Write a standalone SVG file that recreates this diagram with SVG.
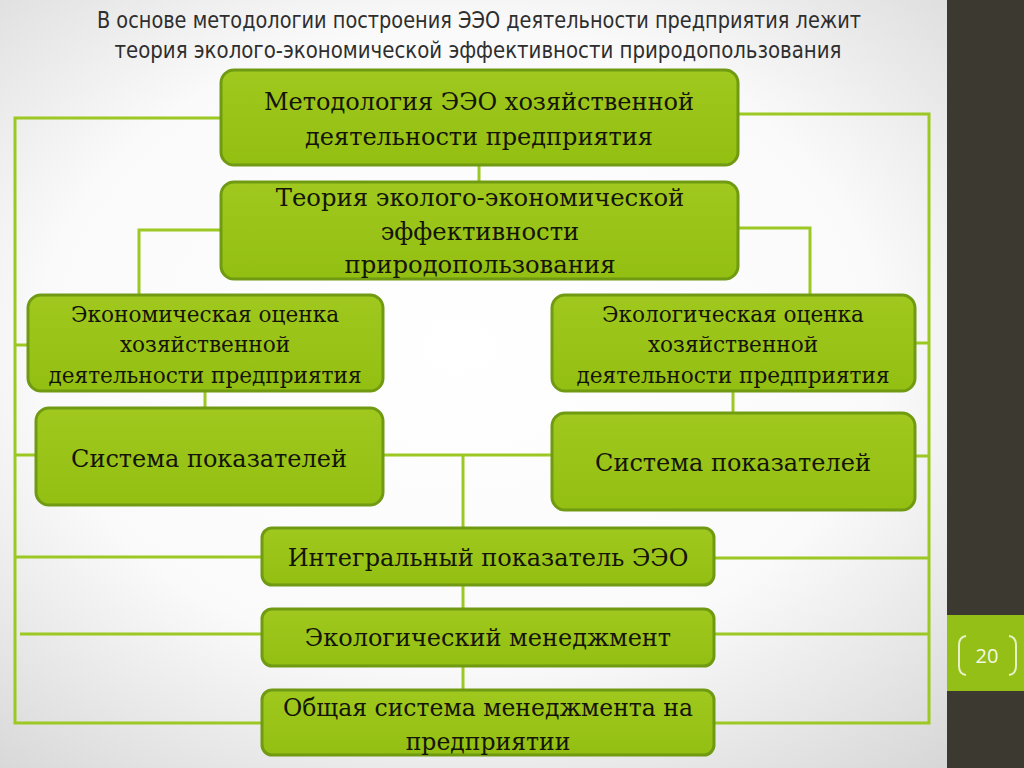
<svg xmlns="http://www.w3.org/2000/svg" width="1024" height="768" viewBox="0 0 1024 768">
<defs>
<radialGradient id="bg" cx="0.45" cy="0.45" r="0.75">
<stop offset="0" stop-color="#ffffff"/>
<stop offset="0.55" stop-color="#fafafa"/>
<stop offset="1" stop-color="#d4d4d4"/>
</radialGradient>
<linearGradient id="boxg" x1="0" y1="0" x2="0" y2="1">
<stop offset="0" stop-color="#a0c81e"/>
<stop offset="1" stop-color="#93bf12"/>
</linearGradient>
<style>
.box{fill:url(#boxg);stroke:#6f9a12;stroke-width:3}
.t{font-family:"DejaVu Serif","Liberation Serif",serif;fill:#141408;text-anchor:middle}
.ln{fill:none;stroke:#9cc823;stroke-width:3}
.title{font-family:"Liberation Sans Narrow","DejaVu Sans Condensed","Liberation Sans",sans-serif;font-stretch:condensed;font-size:23px;fill:#2e2e2e;text-anchor:middle}
</style>
</defs>
<rect width="1024" height="768" fill="url(#bg)"/>
<rect x="947" y="0" width="77" height="768" fill="#3c3a30"/>
<rect x="947" y="615" width="77" height="76" fill="#94bf16"/>
<g id="pagenum">
<path d="M966,636 Q959,637 959,645 L959,666 Q959,674 966,675" fill="none" stroke="#e8f0c8" stroke-width="2"/>
<path d="M1009,636 Q1016,637 1016,645 L1016,666 Q1016,674 1009,675" fill="none" stroke="#e8f0c8" stroke-width="2"/>
<text x="987" y="663" font-family="'Open Sans','Liberation Sans',sans-serif" font-size="20" fill="#f4f8e4" text-anchor="middle">20</text>
</g>
<g id="title">
<text class="title" x="479" y="28" textLength="764" lengthAdjust="spacingAndGlyphs">В основе методологии построения ЭЭО деятельности предприятия лежит</text>
<text class="title" x="478" y="58" textLength="727" lengthAdjust="spacingAndGlyphs">теория эколого-экономической эффективности природопользования</text>
</g>
<g id="connectors">
<polyline class="ln" points="221,118 15,118 15,723 262,723"/>
<line class="ln" x1="15" y1="345" x2="28" y2="345"/>
<line class="ln" x1="15" y1="455" x2="36" y2="455"/>
<line class="ln" x1="15" y1="557" x2="262" y2="557"/>
<line class="ln" x1="20" y1="634" x2="262" y2="634"/>
<polyline class="ln" points="738,114 929,114 929,723 714,723"/>
<line class="ln" x1="915" y1="343" x2="929" y2="343"/>
<line class="ln" x1="915" y1="456" x2="929" y2="456"/>
<line class="ln" x1="714" y1="558" x2="929" y2="558"/>
<line class="ln" x1="714" y1="634" x2="929" y2="634"/>
<line class="ln" x1="479" y1="165" x2="479" y2="182"/>
<polyline class="ln" points="221,230 139,230 139,295"/>
<polyline class="ln" points="738,228 810,228 810,295"/>
<line class="ln" x1="205" y1="391" x2="205" y2="408"/>
<line class="ln" x1="733" y1="391" x2="733" y2="413"/>
<line class="ln" x1="383" y1="455" x2="552" y2="455"/>
<line class="ln" x1="463" y1="455" x2="463" y2="528"/>
<line class="ln" x1="463" y1="585" x2="463" y2="609"/>
<line class="ln" x1="463" y1="666" x2="463" y2="690"/>
</g>
<g id="n1">
<rect class="box" x="221" y="70" width="517" height="95" rx="13"/>
<text class="t" x="479" y="110" font-size="24">Методология ЭЭО хозяйственной</text>
<text class="t" x="479" y="145" font-size="24">деятельности предприятия</text>
</g>
<g id="n2">
<rect class="box" x="221" y="182" width="517" height="97" rx="13"/>
<text class="t" x="480" y="206" font-size="24.3">Теория эколого-экономической</text>
<text class="t" x="480" y="240" font-size="24.3">эффективности</text>
<text class="t" x="480" y="273" font-size="24.3">природопользования</text>
</g>
<g id="n3">
<rect class="box" x="28" y="295" width="355" height="96" rx="13"/>
<text class="t" x="205" y="322" font-size="21.6">Экономическая оценка</text>
<text class="t" x="205" y="352" font-size="21.6">хозяйственной</text>
<text class="t" x="205" y="383" font-size="21.6">деятельности предприятия</text>
</g>
<g id="n4">
<rect class="box" x="552" y="295" width="363" height="96" rx="13"/>
<text class="t" x="733" y="322" font-size="21.6">Экологическая оценка</text>
<text class="t" x="733" y="352" font-size="21.6">хозяйственной</text>
<text class="t" x="733" y="383" font-size="21.6">деятельности предприятия</text>
</g>
<g id="n5">
<rect class="box" x="36" y="408" width="347" height="97" rx="13"/>
<text class="t" x="209" y="467" font-size="24">Система показателей</text>
</g>
<g id="n6">
<rect class="box" x="552" y="413" width="363" height="97" rx="13"/>
<text class="t" x="733" y="471" font-size="24">Система показателей</text>
</g>
<g id="n7">
<rect class="box" x="262" y="528" width="452" height="57" rx="10"/>
<text class="t" x="488" y="566" font-size="24">Интегральный показатель ЭЭО</text>
</g>
<g id="n8">
<rect class="box" x="262" y="609" width="452" height="57" rx="10"/>
<text class="t" x="488" y="646" font-size="24">Экологический менеджмент</text>
</g>
<g id="n9">
<rect class="box" x="262" y="690" width="452" height="65" rx="10"/>
<text class="t" x="488" y="716" font-size="23.5">Общая система менеджмента на</text>
<text class="t" x="488" y="750" font-size="23.5">предприятии</text>
</g>
</svg>
